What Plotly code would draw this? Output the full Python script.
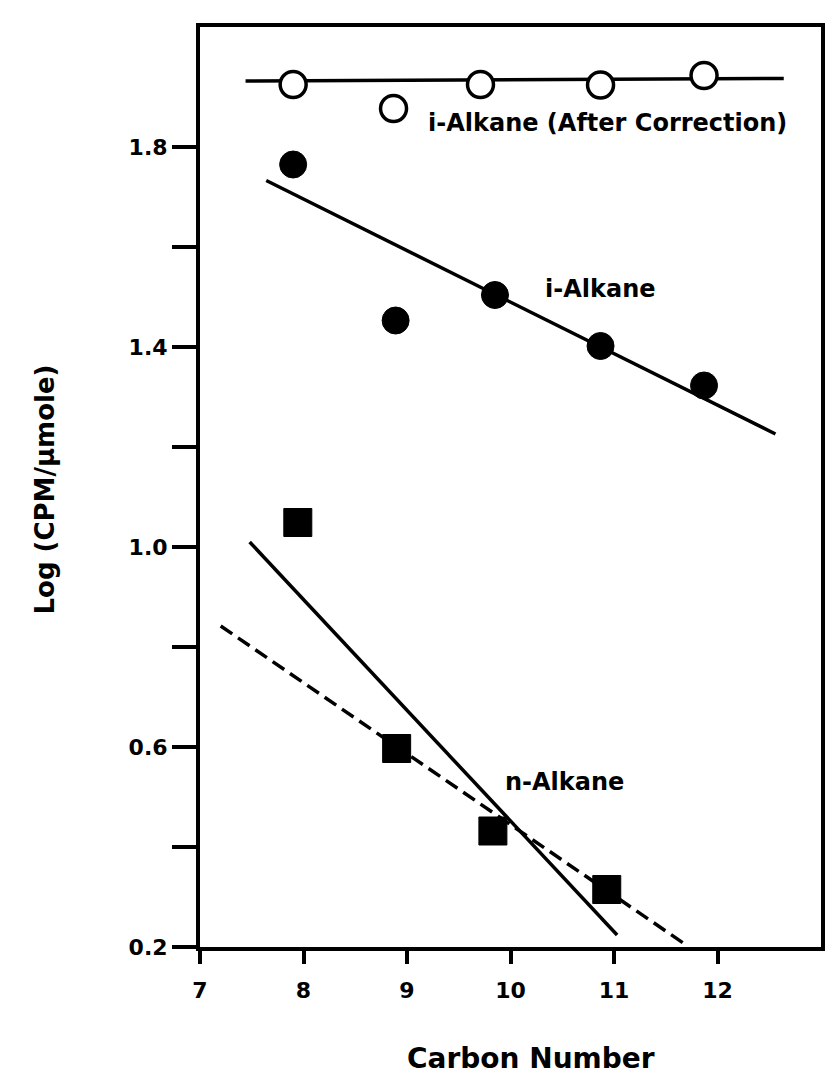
import plotly.graph_objects as go

# ---- data ----
carbon_iso_corr = [7.90, 8.87, 9.71, 10.87, 11.87]
log_iso_corr = [1.925, 1.877, 1.925, 1.924, 1.943]
fit_iso_corr_x = [7.44, 12.64]
fit_iso_corr_y = [1.932, 1.937]

carbon_iso = [7.90, 8.89, 9.85, 10.87, 11.87]
log_iso = [1.765, 1.453, 1.504, 1.402, 1.323]
fit_iso_x = [7.64, 12.56]
fit_iso_y = [1.733, 1.226]

carbon_n = [7.945, 8.90, 9.83, 10.93]
log_n = [1.049, 0.597, 0.432, 0.315]
fit_n_solid_x = [7.48, 11.03]
fit_n_solid_y = [1.010, 0.224]
fit_n_dash_x = [7.20, 11.69]
fit_n_dash_y = [0.842, 0.205]

x_ticks = [7, 8, 9, 10, 11, 12]
y_ticks = [0.2, 0.4, 0.6, 0.8, 1.0, 1.2, 1.4, 1.6, 1.8]
y_ticktext = ["0.2", "", "0.6", "", "1.0", "", "1.4", "", "1.8"]

FONT = "DejaVu Sans"
BLACK = "#000000"

fig = go.Figure()

line_style = dict(color=BLACK, width=3.5)

fig.add_trace(go.Scatter(x=fit_iso_corr_x, y=fit_iso_corr_y, mode="lines", line=line_style))
fig.add_trace(go.Scatter(x=fit_iso_x, y=fit_iso_y, mode="lines", line=line_style))
fig.add_trace(go.Scatter(x=fit_n_solid_x, y=fit_n_solid_y, mode="lines", line=line_style))
fig.add_trace(go.Scatter(x=fit_n_dash_x, y=fit_n_dash_y, mode="lines",
                         line=dict(color=BLACK, width=3.5, dash="14px,7px")))

fig.add_trace(go.Scatter(x=carbon_iso_corr, y=log_iso_corr, mode="markers",
                         marker=dict(symbol="circle", size=26, color="white",
                                     line=dict(color=BLACK, width=3.5))))
fig.add_trace(go.Scatter(x=carbon_iso, y=log_iso, mode="markers",
                         marker=dict(symbol="circle", size=27, color=BLACK,
                                     line=dict(color=BLACK, width=1))))
fig.add_trace(go.Scatter(x=carbon_n, y=log_n, mode="markers",
                         marker=dict(symbol="square", size=28, color=BLACK,
                                     line=dict(color=BLACK, width=1))))

lab_font = dict(family=FONT, size=24, color=BLACK, weight="bold")
fig.add_annotation(x=9.18, y=1.848, text="i-Alkane (After Correction)", showarrow=False,
                   xanchor="left", yanchor="middle", font=lab_font)
fig.add_annotation(x=10.31, y=1.516, text="i-Alkane", showarrow=False,
                   xanchor="left", yanchor="middle", font=lab_font)
fig.add_annotation(x=9.93, y=0.531, text="n-Alkane", showarrow=False,
                   xanchor="left", yanchor="middle", font=lab_font)

# axis titles
fig.add_annotation(xref="paper", yref="paper", x=0.533, y=-0.121, text="Carbon Number",
                   showarrow=False, xanchor="center", yanchor="middle",
                   font=dict(family=FONT, size=28, color=BLACK, weight="bold"))
fig.add_annotation(xref="paper", yref="paper", x=-0.25, y=0.497, text="Log (CPM/μmole)",
                   showarrow=False, xanchor="center", yanchor="middle", textangle=-90,
                   font=dict(family=FONT, size=26, color=BLACK, weight="bold"))

tick_font = dict(family=FONT, size=22, color=BLACK, weight="bold")

fig.update_xaxes(range=[7, 13], tickvals=x_ticks, ticktext=[str(v) for v in x_ticks],
                 ticks="outside", ticklen=13, tickwidth=3.5, tickcolor=BLACK,
                 showline=True, linewidth=4, linecolor=BLACK, mirror=True,
                 showgrid=False, zeroline=False, tickfont=tick_font, ticklabelstandoff=8)
fig.update_yaxes(range=[0.2, 2.04], tickvals=y_ticks, ticktext=y_ticktext,
                 ticks="outside", ticklen=24, tickwidth=3.5, tickcolor=BLACK,
                 showline=True, linewidth=4, linecolor=BLACK, mirror=True,
                 showgrid=False, zeroline=False, tickfont=tick_font)

fig.update_layout(width=836, height=1080, margin=dict(l=200, r=15, t=27, b=133),
                  plot_bgcolor="white", paper_bgcolor="white", showlegend=False)

fig.write_html("out.html")
